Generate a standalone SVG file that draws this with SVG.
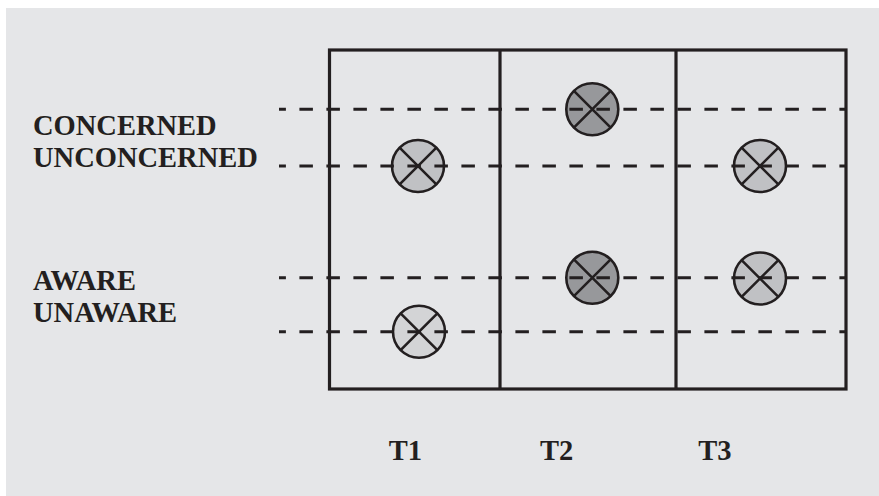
<svg xmlns="http://www.w3.org/2000/svg" width="879" height="496" viewBox="0 0 879 496">
  <defs>
    <style>
      .panel { fill: #e5e6e8; }
      .frame { fill: none; stroke: #231f20; stroke-width: 3.2; }
      .dash { stroke: #231f20; stroke-width: 3; stroke-dasharray: 13.5 13.5; stroke-dashoffset: 6.6; fill: none; }
      .ring { stroke: #231f20; stroke-width: 2.6; }
      .cross { stroke: #231f20; stroke-width: 2.6; fill: none; }
      .dark { fill: #97989b; }
      .mid { fill: #c0c1c4; }
      .light { fill: #d3d4d6; }
      .label { font-family: "Liberation Serif", "Times New Roman", serif; font-weight: bold; font-size: 28.5px; fill: #231f20; }
    </style>
  </defs>

  <rect class="panel" x="6" y="8" width="873" height="488"/>

  <!-- row labels -->
  <g id="labels-concern">
    <text class="label" x="33" y="135">CONCERNED</text>
    <text class="label" x="33" y="167">UNCONCERNED</text>
  </g>
  <g id="labels-awareness">
    <text class="label" x="33" y="290">AWARE</text>
    <text class="label" x="33" y="322">UNAWARE</text>
  </g>

  <!-- time columns -->
  <g id="grid">
    <rect class="frame" x="329.5" y="50" width="516.5" height="339"/>
    <line class="frame" x1="500" y1="50" x2="500" y2="389"/>
    <line class="frame" x1="676" y1="50" x2="676" y2="389"/>
  </g>

  <!-- crossed-circle markers -->
  <g id="t1-unconcerned" transform="translate(418 166)">
    <circle class="ring mid" r="26"/>
    <path class="cross" d="M-18.4,-18.4 L18.4,18.4 M-18.4,18.4 L18.4,-18.4"/>
  </g>
  <g id="t1-unaware" transform="translate(419 331.7)">
    <circle class="ring light" r="26"/>
    <path class="cross" d="M-18.4,-18.4 L18.4,18.4 M-18.4,18.4 L18.4,-18.4"/>
  </g>
  <g id="t2-concerned" transform="translate(592.3 109.3)">
    <circle class="ring dark" r="26"/>
    <path class="cross" d="M-18.4,-18.4 L18.4,18.4 M-18.4,18.4 L18.4,-18.4"/>
  </g>
  <g id="t2-aware" transform="translate(592.3 277.7)">
    <circle class="ring dark" r="26"/>
    <path class="cross" d="M-18.4,-18.4 L18.4,18.4 M-18.4,18.4 L18.4,-18.4"/>
  </g>
  <g id="t3-unconcerned" transform="translate(760 166)">
    <circle class="ring mid" r="26"/>
    <path class="cross" d="M-18.4,-18.4 L18.4,18.4 M-18.4,18.4 L18.4,-18.4"/>
  </g>
  <g id="t3-aware" transform="translate(760 278.5)">
    <circle class="ring mid" r="26"/>
    <path class="cross" d="M-18.4,-18.4 L18.4,18.4 M-18.4,18.4 L18.4,-18.4"/>
  </g>

  <!-- level guides -->
  <g id="connectors">
    <line class="dash" x1="279" y1="109.3" x2="846" y2="109.3"/>
    <line class="dash" x1="279" y1="166" x2="846" y2="166"/>
    <line class="dash" x1="279" y1="277.7" x2="846" y2="277.7"/>
    <line class="dash" x1="279" y1="331.7" x2="846" y2="331.7"/>
  </g>

  <!-- column labels -->
  <g id="labels-time">
    <text class="label" x="405.5" y="460" text-anchor="middle">T1</text>
    <text class="label" x="556.7" y="460" text-anchor="middle">T2</text>
    <text class="label" x="715" y="460" text-anchor="middle">T3</text>
  </g>
</svg>
